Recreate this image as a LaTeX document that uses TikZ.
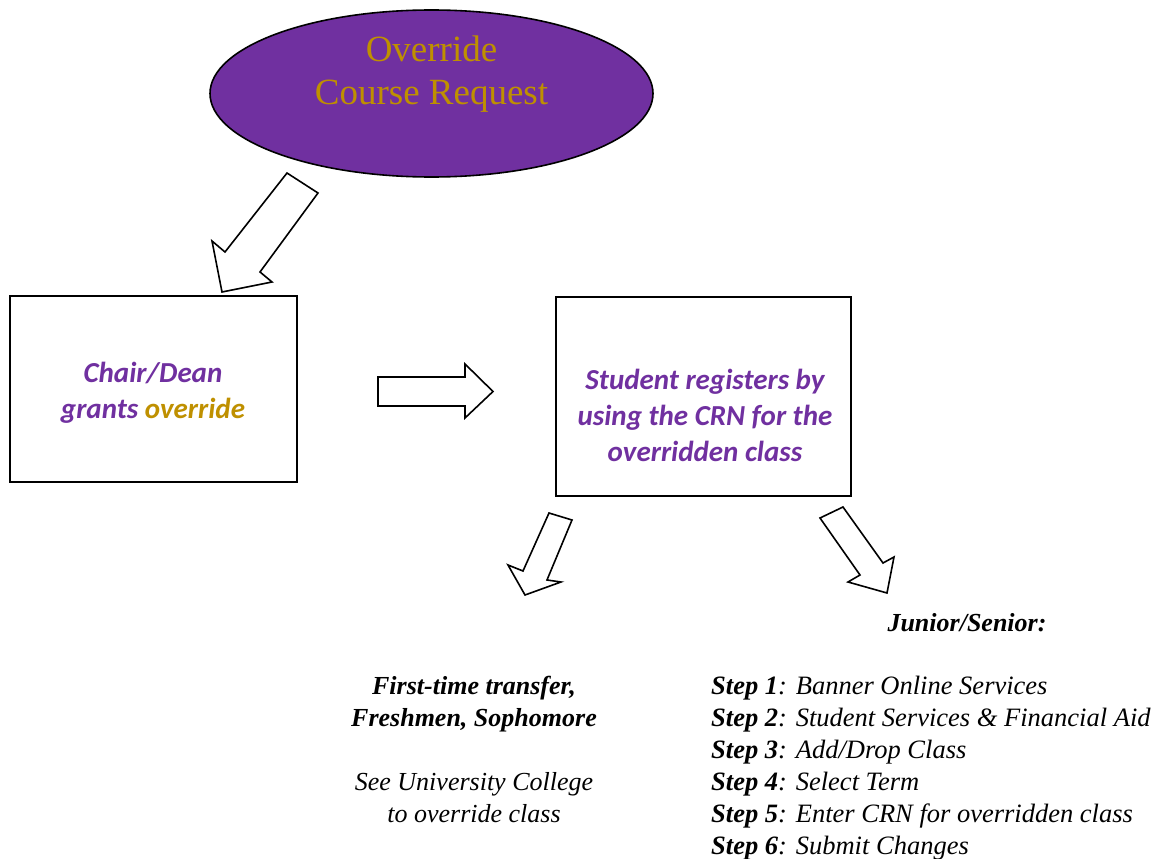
\documentclass[tikz,border=0pt]{standalone}
\usepackage{fontspec}
\setmainfont{Liberation Serif}
\newfontfamily\calib{Carlito}
\usetikzlibrary{shapes.geometric}
\definecolor{ecupurple}{HTML}{7030A0}
\definecolor{ecugold}{HTML}{BF9000}
\begin{document}
\begin{tikzpicture}[x=1pt,y=-1pt,
  box/.style={draw, line width=1.5pt, fill=white, inner sep=0pt},
  blockarrow/.style={draw, line width=1.6pt, fill=white, line join=miter},
  titletext/.style={font=\fontsize{37}{43}\selectfont, text=ecugold, anchor=base, inner sep=0pt},
  boxtext/.style={font=\calib\bfseries\itshape\fontsize{29}{36}\selectfont, text=ecupurple, anchor=base, inner sep=0pt},
  notetext/.style={font=\itshape\fontsize{26}{32}\selectfont, anchor=base, inner sep=0pt},
  boldnote/.style={notetext, font=\bfseries\itshape\fontsize{26}{32}\selectfont},
  steptext/.style={font=\itshape\fontsize{26.5}{32}\selectfont, anchor=base west, inner sep=0pt}]
\path[use as bounding box] (0,0) rectangle (1168,859);

% ellipse
\node[ellipse, draw, line width=1.6pt, fill=ecupurple, minimum width=443, minimum height=167, inner sep=0pt] (req) at (431.5,93.5) {};
\node[titletext] (req1) at (431.5,62) {Override};
\node[titletext] (req2) at (431.5,105) {Course Request};

% boxes
\node[box, minimum width=287, minimum height=186] (chair) at (153.5,389) {};
\node[box, minimum width=295, minimum height=199] (student) at (703.5,396.5) {};
\node[boxtext] (chair1) at (153,382) {Chair/Dean};
\node[boxtext] (chair2) at (153,418) {grants \textcolor{ecugold}{override}};
\node[boxtext] (stu1) at (705,389) {Student registers by};
\node[boxtext] (stu2) at (705,425) {using the CRN for the};
\node[boxtext] (stu3) at (705,461) {overridden class};

% block arrows
\draw[blockarrow] (287,173) -- (225,252) -- (212,241) -- (222,292) -- (272,282) -- (260,272) -- (318,193) -- cycle;
\draw[blockarrow] (378,377) -- (465,377) -- (465,364) -- (493,391.5) -- (465,418) -- (465,406) -- (378,406) -- cycle;
\draw[blockarrow] (549,513) -- (523,571) -- (508,565) -- (525,595) -- (561,582) -- (547,580) -- (572,520) -- cycle;
\draw[blockarrow] (820,518) -- (860,575) -- (848,582) -- (887,593) -- (894,557) -- (883,563) -- (843,507) -- cycle;

% left text
\node[boldnote] (ft1) at (474,694) {First-time transfer,};
\node[boldnote] (ft2) at (474,726) {Freshmen, Sophomore};
\node[notetext] (ft3) at (474,790) {See University College};
\node[notetext] (ft4) at (474,822) {to override class};

% right text
\node[boldnote] (js) at (967,631) {Junior/Senior:};
\node[steptext] (s1) at (711,694) {\textbf{Step 1}: Banner Online Services};
\node[steptext] (s2) at (711,726) {\textbf{Step 2}: Student Services \& Financial Aid};
\node[steptext] (s3) at (711,758) {\textbf{Step 3}: Add/Drop Class};
\node[steptext] (s4) at (711,790) {\textbf{Step 4}: Select Term};
\node[steptext] (s5) at (711,822) {\textbf{Step 5}: Enter CRN for overridden class};
\node[steptext] (s6) at (711,854) {\textbf{Step 6}: Submit Changes};
\end{tikzpicture}
\end{document}
